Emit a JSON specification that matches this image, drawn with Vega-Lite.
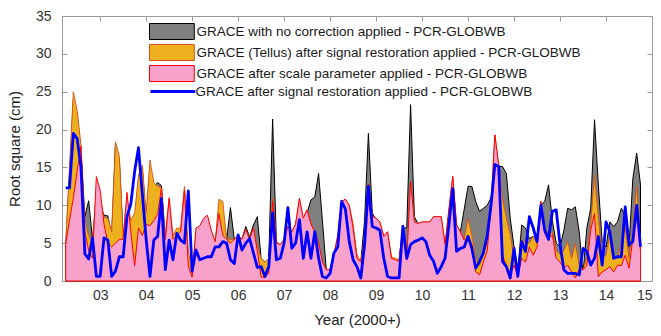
{
  "$schema": "https://vega.github.io/schema/vega-lite/v6.json",
  "width": 590,
  "height": 265,
  "autosize": "none",
  "padding": {"left": 62, "top": 16, "right": 9, "bottom": 55},
  "background": "white",
  "config": {
    "font": "Liberation Sans",
    "view": {"stroke": null},
    "axis": {
      "grid": false,
      "domainColor": "#9a9a9a",
      "tickColor": "#9a9a9a",
      "tickSize": -5,
      "labelFontSize": 14,
      "labelColor": "#333333",
      "titleFontSize": 15,
      "titleFontWeight": "normal",
      "titleColor": "#222222"
    },
    "legend": {
      "orient": "none",
      "title": null,
      "padding": 0,
      "labelFontSize": 13.5,
      "labelColor": "#1a1a1a",
      "labelOffset": 16,
      "labelLimit": 500,
      "symbolSize": 256,
      "symbolOffset": 14.4,
      "rowPadding": 0
    }
  },
  "data": {
    "values": [
      {"t": 2.25, "noCorr": 4.5, "tellus": 5, "scale": 4.8, "restored": 12.3},
      {"t": 2.333, "noCorr": 14, "tellus": 15, "scale": 8, "restored": 12.3},
      {"t": 2.417, "noCorr": 24, "tellus": 25, "scale": 11, "restored": 19.5},
      {"t": 2.5, "noCorr": 22, "tellus": 22.5, "scale": 14.5, "restored": 18.8},
      {"t": 2.583, "noCorr": 17, "tellus": 18, "scale": 17.8, "restored": 15},
      {"t": 2.667, "noCorr": 8.5, "tellus": 8, "scale": 6.5, "restored": 3.6},
      {"t": 2.75, "noCorr": 10.6, "tellus": 6, "scale": 4, "restored": 2.9},
      {"t": 2.833, "noCorr": 5.5, "tellus": 5, "scale": 3, "restored": 5.7},
      {"t": 2.917, "noCorr": 11, "tellus": 12, "scale": 13.8, "restored": 0.6},
      {"t": 3.0, "noCorr": 10, "tellus": 11, "scale": 12, "restored": 0.6},
      {"t": 3.083, "noCorr": 8.7, "tellus": 8.4, "scale": 7.5, "restored": 5.7},
      {"t": 3.167, "noCorr": 8.6, "tellus": 8.3, "scale": 5, "restored": 5.4},
      {"t": 3.25, "noCorr": 6, "tellus": 6.5, "scale": 4.5, "restored": 0.6},
      {"t": 3.333, "noCorr": 18, "tellus": 18.4, "scale": 5, "restored": 1.3},
      {"t": 3.417, "noCorr": 16, "tellus": 16.5, "scale": 5.5, "restored": 3.2},
      {"t": 3.5, "noCorr": 5.5, "tellus": 6, "scale": 5.5, "restored": 3.2},
      {"t": 3.583, "noCorr": 10, "tellus": 11, "scale": 11.7, "restored": 8.5},
      {"t": 3.667, "noCorr": 7, "tellus": 8, "scale": 6.5, "restored": 10.2},
      {"t": 3.75, "noCorr": 8, "tellus": 9, "scale": 2, "restored": 14.5},
      {"t": 3.833, "noCorr": 13, "tellus": 14, "scale": 7, "restored": 17.6},
      {"t": 3.917, "noCorr": 15, "tellus": 15.3, "scale": 6, "restored": 11.5},
      {"t": 4.0, "noCorr": 8, "tellus": 9, "scale": 7.5, "restored": 5.5},
      {"t": 4.083, "noCorr": 15, "tellus": 16, "scale": 7.3, "restored": 0.6},
      {"t": 4.167, "noCorr": 12.5, "tellus": 13, "scale": 8, "restored": 5.4},
      {"t": 4.25, "noCorr": 13, "tellus": 12.5, "scale": 8.8, "restored": 5.9},
      {"t": 4.333, "noCorr": 12.6, "tellus": 12.3, "scale": 12.3, "restored": 10.9},
      {"t": 4.417, "noCorr": 5, "tellus": 6, "scale": 5.5, "restored": 1.5},
      {"t": 4.5, "noCorr": 10, "tellus": 11, "scale": 10.9, "restored": 5.4},
      {"t": 4.583, "noCorr": 5, "tellus": 6, "scale": 5.5, "restored": 2.8},
      {"t": 4.667, "noCorr": 6.5, "tellus": 7, "scale": 6, "restored": 6.3},
      {"t": 4.75, "noCorr": 6, "tellus": 7, "scale": 6.5, "restored": 5.4},
      {"t": 4.833, "noCorr": 12, "tellus": 12.5, "scale": 12, "restored": 5},
      {"t": 4.917, "noCorr": 3, "tellus": 4, "scale": 2, "restored": 11.9},
      {"t": 5.0, "noCorr": 0.5, "tellus": 1, "scale": 0.5, "restored": 1.3},
      {"t": 5.083, "noCorr": 6, "tellus": 6.5, "scale": 7, "restored": 4.1},
      {"t": 5.167, "noCorr": 6.5, "tellus": 7, "scale": 7.3, "restored": 2.8},
      {"t": 5.25, "noCorr": 7.5, "tellus": 8, "scale": 8.3, "restored": 3},
      {"t": 5.333, "noCorr": 8, "tellus": 8.5, "scale": 8.7, "restored": 3.2},
      {"t": 5.417, "noCorr": 6, "tellus": 6.5, "scale": 6.7, "restored": 3.2},
      {"t": 5.5, "noCorr": 4.5, "tellus": 5, "scale": 5.2, "restored": 4.5},
      {"t": 5.583, "noCorr": 10, "tellus": 10.8, "scale": 8.9, "restored": 4.5},
      {"t": 5.667, "noCorr": 9, "tellus": 10.5, "scale": 6, "restored": 5.2},
      {"t": 5.75, "noCorr": 5.5, "tellus": 5.5, "scale": 5.5, "restored": 5},
      {"t": 5.833, "noCorr": 9.7, "tellus": 5.5, "scale": 5, "restored": 2.8},
      {"t": 5.917, "noCorr": 5.5, "tellus": 5.5, "scale": 5.5, "restored": 2.3},
      {"t": 6.0, "noCorr": 6, "tellus": 5.9, "scale": 5.9, "restored": 6.1},
      {"t": 6.083, "noCorr": 5.5, "tellus": 5.5, "scale": 5.5, "restored": 4.1},
      {"t": 6.167, "noCorr": 7.2, "tellus": 6.8, "scale": 6.8, "restored": 5},
      {"t": 6.25, "noCorr": 5.8, "tellus": 5.5, "scale": 5.5, "restored": 5.6},
      {"t": 6.333, "noCorr": 7.4, "tellus": 7, "scale": 7, "restored": 3.7},
      {"t": 6.417, "noCorr": 8.5, "tellus": 4.5, "scale": 4, "restored": 1.8},
      {"t": 6.5, "noCorr": 3, "tellus": 3, "scale": 0.5, "restored": 1.9},
      {"t": 6.583, "noCorr": 2.5, "tellus": 2.5, "scale": 0.5, "restored": 0.6},
      {"t": 6.667, "noCorr": 3, "tellus": 3, "scale": 1, "restored": 1.9},
      {"t": 6.75, "noCorr": 21.4, "tellus": 11, "scale": 10.5, "restored": 9},
      {"t": 6.833, "noCorr": 5, "tellus": 5.2, "scale": 5, "restored": 2.8},
      {"t": 6.917, "noCorr": 4.5, "tellus": 4.8, "scale": 4.8, "restored": 3},
      {"t": 7.0, "noCorr": 5.5, "tellus": 5.5, "scale": 5.5, "restored": 5},
      {"t": 7.083, "noCorr": 7, "tellus": 7.2, "scale": 7.2, "restored": 9.7},
      {"t": 7.167, "noCorr": 6, "tellus": 6.5, "scale": 6.5, "restored": 4.3},
      {"t": 7.25, "noCorr": 7.5, "tellus": 7.5, "scale": 7.5, "restored": 5},
      {"t": 7.333, "noCorr": 10, "tellus": 10.9, "scale": 10.9, "restored": 8.1},
      {"t": 7.417, "noCorr": 8, "tellus": 8.3, "scale": 8.3, "restored": 3},
      {"t": 7.5, "noCorr": 9, "tellus": 9.4, "scale": 9.4, "restored": 6.5},
      {"t": 7.583, "noCorr": 10.7, "tellus": 7.5, "scale": 7.5, "restored": 3},
      {"t": 7.667, "noCorr": 11.1, "tellus": 6.5, "scale": 6.5, "restored": 6.5},
      {"t": 7.75, "noCorr": 14.2, "tellus": 5, "scale": 5, "restored": 3},
      {"t": 7.833, "noCorr": 8, "tellus": 2.5, "scale": 2.5, "restored": 0.6},
      {"t": 7.917, "noCorr": 1.5, "tellus": 1.5, "scale": 1.5, "restored": 0.4},
      {"t": 8.0, "noCorr": 1.2, "tellus": 1.5, "scale": 1.5, "restored": 1},
      {"t": 8.083, "noCorr": 3, "tellus": 3.5, "scale": 3.5, "restored": 3.7},
      {"t": 8.167, "noCorr": 5.5, "tellus": 6, "scale": 6, "restored": 4.5},
      {"t": 8.25, "noCorr": 10, "tellus": 10.5, "scale": 10.5, "restored": 10.5},
      {"t": 8.333, "noCorr": 10.5, "tellus": 10.8, "scale": 10.8, "restored": 9.5},
      {"t": 8.417, "noCorr": 9.5, "tellus": 10, "scale": 10, "restored": 5.2},
      {"t": 8.5, "noCorr": 7, "tellus": 7.5, "scale": 7, "restored": 2.8},
      {"t": 8.583, "noCorr": 3, "tellus": 3.5, "scale": 3, "restored": 1.9},
      {"t": 8.667, "noCorr": 2.5, "tellus": 2.5, "scale": 2.5, "restored": 0.4},
      {"t": 8.75, "noCorr": 8, "tellus": 5.5, "scale": 5, "restored": 4.8},
      {"t": 8.833, "noCorr": 19.5, "tellus": 12.8, "scale": 12.8, "restored": 12.5},
      {"t": 8.917, "noCorr": 9, "tellus": 8.5, "scale": 8.5, "restored": 7.2},
      {"t": 9.0, "noCorr": 8, "tellus": 8.3, "scale": 8.3, "restored": 7},
      {"t": 9.083, "noCorr": 7.5, "tellus": 7.8, "scale": 7.8, "restored": 6.7},
      {"t": 9.167, "noCorr": 5.5, "tellus": 5.9, "scale": 5.9, "restored": 3},
      {"t": 9.25, "noCorr": 6, "tellus": 6.5, "scale": 6.5, "restored": 0.6},
      {"t": 9.333, "noCorr": 3, "tellus": 3.2, "scale": 3, "restored": 0.4},
      {"t": 9.417, "noCorr": 2.8, "tellus": 3, "scale": 2.8, "restored": 0.4},
      {"t": 9.5, "noCorr": 2.6, "tellus": 2.8, "scale": 2.6, "restored": 0.4},
      {"t": 9.583, "noCorr": 7, "tellus": 7.4, "scale": 7.4, "restored": 7.2},
      {"t": 9.667, "noCorr": 7, "tellus": 2.8, "scale": 2.8, "restored": 3},
      {"t": 9.75, "noCorr": 23.3, "tellus": 13.1, "scale": 13.1, "restored": 4.8},
      {"t": 9.833, "noCorr": 8.5, "tellus": 7.8, "scale": 7.8, "restored": 5.2},
      {"t": 9.917, "noCorr": 7.5, "tellus": 7.6, "scale": 7.6, "restored": 5.4},
      {"t": 10.0, "noCorr": 7.5, "tellus": 7.8, "scale": 7.8, "restored": 5.7},
      {"t": 10.083, "noCorr": 7.5, "tellus": 7.8, "scale": 7.8, "restored": 5.2},
      {"t": 10.167, "noCorr": 7.5, "tellus": 7.8, "scale": 7.8, "restored": 3.4},
      {"t": 10.25, "noCorr": 8, "tellus": 8.5, "scale": 8.5, "restored": 2.6},
      {"t": 10.333, "noCorr": 8, "tellus": 8.5, "scale": 8.5, "restored": 1},
      {"t": 10.417, "noCorr": 8, "tellus": 8.5, "scale": 8.5, "restored": 1.9},
      {"t": 10.5, "noCorr": 4.5, "tellus": 4.8, "scale": 4.8, "restored": 3},
      {"t": 10.583, "noCorr": 9, "tellus": 9.4, "scale": 9.4, "restored": 7.4},
      {"t": 10.667, "noCorr": 13.5, "tellus": 13.8, "scale": 13.8, "restored": 12.2},
      {"t": 10.75, "noCorr": 7, "tellus": 7.4, "scale": 7.4, "restored": 3.9},
      {"t": 10.833, "noCorr": 6.5, "tellus": 6.5, "scale": 6.5, "restored": 4.3},
      {"t": 10.917, "noCorr": 9.5, "tellus": 5.5, "scale": 5.4, "restored": 4.5},
      {"t": 11.0, "noCorr": 12.5, "tellus": 8.3, "scale": 5.6, "restored": 5.9},
      {"t": 11.083, "noCorr": 12.5, "tellus": 6, "scale": 4.8, "restored": 4.3},
      {"t": 11.167, "noCorr": 10.5, "tellus": 3, "scale": 1.2, "restored": 1.7},
      {"t": 11.25, "noCorr": 9.2, "tellus": 2, "scale": 0.8, "restored": 2.6},
      {"t": 11.333, "noCorr": 9.6, "tellus": 4, "scale": 2.5, "restored": 3.7},
      {"t": 11.417, "noCorr": 10, "tellus": 5, "scale": 4, "restored": 6},
      {"t": 11.5, "noCorr": 11, "tellus": 10, "scale": 10, "restored": 10},
      {"t": 11.583, "noCorr": 15, "tellus": 19.3, "scale": 19.3, "restored": 15.4},
      {"t": 11.667, "noCorr": 15.2, "tellus": 15.3, "scale": 15.3, "restored": 15.1},
      {"t": 11.75, "noCorr": 15.1, "tellus": 10.9, "scale": 3.4, "restored": 2.6},
      {"t": 11.833, "noCorr": 14.2, "tellus": 8.3, "scale": 1.9, "restored": 1.9},
      {"t": 11.917, "noCorr": 8.3, "tellus": 6.1, "scale": 0.8, "restored": 0.4},
      {"t": 12.0, "noCorr": 4.5, "tellus": 3, "scale": 2.1, "restored": 4.3},
      {"t": 12.083, "noCorr": 1.5, "tellus": 1.5, "scale": 0.6, "restored": 0.6},
      {"t": 12.167, "noCorr": 7.4, "tellus": 5.5, "scale": 3, "restored": 5.2},
      {"t": 12.25, "noCorr": 7, "tellus": 5, "scale": 2.5, "restored": 3.9},
      {"t": 12.333, "noCorr": 5.6, "tellus": 5, "scale": 4.5, "restored": 8.5},
      {"t": 12.417, "noCorr": 5.9, "tellus": 5.9, "scale": 3.4, "restored": 7},
      {"t": 12.5, "noCorr": 5, "tellus": 5, "scale": 4.5, "restored": 5.2},
      {"t": 12.583, "noCorr": 10, "tellus": 10.5, "scale": 10.5, "restored": 10},
      {"t": 12.667, "noCorr": 10.5, "tellus": 7, "scale": 6.3, "restored": 6.7},
      {"t": 12.75, "noCorr": 12.7, "tellus": 6, "scale": 5.6, "restored": 5.5},
      {"t": 12.833, "noCorr": 8, "tellus": 6.5, "scale": 6.1, "restored": 9.2},
      {"t": 12.917, "noCorr": 5, "tellus": 4, "scale": 3, "restored": 9.4},
      {"t": 13.0, "noCorr": 4.5, "tellus": 3.5, "scale": 2.5, "restored": 4.8},
      {"t": 13.083, "noCorr": 6.7, "tellus": 4, "scale": 1.7, "restored": 1.5},
      {"t": 13.167, "noCorr": 9.6, "tellus": 5.2, "scale": 2.1, "restored": 1},
      {"t": 13.25, "noCorr": 9.4, "tellus": 3, "scale": 1.2, "restored": 1},
      {"t": 13.333, "noCorr": 9.8, "tellus": 5, "scale": 0.4, "restored": 1},
      {"t": 13.417, "noCorr": 6.5, "tellus": 2.1, "scale": 1.5, "restored": 0.8},
      {"t": 13.5, "noCorr": 1, "tellus": 1.5, "scale": 1.5, "restored": 4.3},
      {"t": 13.583, "noCorr": 7, "tellus": 3, "scale": 2, "restored": 3.9},
      {"t": 13.667, "noCorr": 9.6, "tellus": 7.4, "scale": 6.7, "restored": 2.1},
      {"t": 13.75, "noCorr": 21.3, "tellus": 14, "scale": 8.9, "restored": 3},
      {"t": 13.833, "noCorr": 12.7, "tellus": 8.3, "scale": 0.6, "restored": 5.9},
      {"t": 13.917, "noCorr": 5.2, "tellus": 3, "scale": 1.2, "restored": 2.1},
      {"t": 14.0, "noCorr": 4.5, "tellus": 3.4, "scale": 1.5, "restored": 7.8},
      {"t": 14.083, "noCorr": 7.8, "tellus": 6.1, "scale": 1.9, "restored": 6.5},
      {"t": 14.167, "noCorr": 7.2, "tellus": 3, "scale": 1.2, "restored": 3},
      {"t": 14.25, "noCorr": 7.8, "tellus": 3, "scale": 2.1, "restored": 3.2},
      {"t": 14.333, "noCorr": 9.6, "tellus": 5, "scale": 2, "restored": 3.2},
      {"t": 14.417, "noCorr": 8.7, "tellus": 7, "scale": 3.4, "restored": 9.8},
      {"t": 14.5, "noCorr": 4.5, "tellus": 3, "scale": 1.7, "restored": 4.8},
      {"t": 14.583, "noCorr": 13.5, "tellus": 7, "scale": 5.6, "restored": 5.2},
      {"t": 14.667, "noCorr": 16.9, "tellus": 12.5, "scale": 9.8, "restored": 10},
      {"t": 14.75, "noCorr": 12.7, "tellus": 4.5, "scale": 3.9, "restored": 4.5}
    ]
  },
  "encoding": {
    "x": {
      "field": "t",
      "type": "quantitative",
      "scale": {"domain": [2.17, 15], "nice": false, "zero": false}
    }
  },
  "resolve": {"axis": {"x": "independent", "y": "independent"}},
  "layer": [
    {
      "mark": {"type": "area", "strokeWidth": 1, "strokeJoin": "round"},
      "encoding": {
        "x": {
          "field": "t",
          "type": "quantitative",
          "axis": {
            "orient": "bottom",
            "values": [3, 4, 5, 6, 7, 8, 9, 10, 11, 12, 13, 14, 15],
            "labelExpr": "datum.value < 10 ? '0' + datum.value : '' + datum.value",
            "labelPadding": 12,
            "title": "Year (2000+)",
            "titlePadding": 10
          }
        },
        "y": {
          "field": "noCorr",
          "type": "quantitative",
          "scale": {"domain": [0, 35], "nice": false},
          "axis": {
            "orient": "left",
            "values": [0, 5, 10, 15, 20, 25, 30, 35],
            "labelPadding": 16,
            "title": "Root square (cm)",
            "titlePadding": 13
          }
        },
        "fill": {
          "datum": "GRACE with no correction applied - PCR-GLOBWB",
          "type": "nominal",
          "scale": {
            "domain": [
              "GRACE with no correction applied - PCR-GLOBWB",
              "GRACE (Tellus) after signal restoration applied - PCR-GLOBWB",
              "GRACE after scale parameter applied - PCR-GLOBWB"
            ],
            "range": ["#808080", "#EDB120", "#F7A1CB"]
          },
          "legend": {
            "legendX": 87,
            "legendY": 7,
            "symbolType": "M-2.8,-1H2.8V1H-2.8Z",
            "symbolStrokeWidth": 1
          }
        },
        "stroke": {
          "datum": "GRACE with no correction applied - PCR-GLOBWB",
          "type": "nominal",
          "scale": {
            "domain": [
              "GRACE with no correction applied - PCR-GLOBWB",
              "GRACE (Tellus) after signal restoration applied - PCR-GLOBWB",
              "GRACE after scale parameter applied - PCR-GLOBWB"
            ],
            "range": ["#000000", "#D95319", "#FF0000"]
          },
          "legend": {
            "legendX": 87,
            "legendY": 7,
            "symbolType": "M-2.8,-1H2.8V1H-2.8Z",
            "symbolStrokeWidth": 1
          }
        }
      }
    },
    {
      "mark": {"type": "area", "strokeWidth": 0.9, "strokeJoin": "round"},
      "encoding": {
        "x": {
          "field": "t",
          "type": "quantitative",
          "axis": {"orient": "top", "values": [3, 4, 5, 6, 7, 8, 9, 10, 11, 12, 13, 14, 15], "labels": false, "title": null}
        },
        "y": {
          "field": "tellus",
          "type": "quantitative",
          "axis": {"orient": "right", "values": [0, 5, 10, 15, 20, 25, 30, 35], "labels": false, "title": null}
        },
        "fill": {"datum": "GRACE (Tellus) after signal restoration applied - PCR-GLOBWB", "type": "nominal"},
        "stroke": {"datum": "GRACE (Tellus) after signal restoration applied - PCR-GLOBWB", "type": "nominal"}
      }
    },
    {
      "mark": {"type": "area", "strokeWidth": 1, "strokeJoin": "round"},
      "encoding": {
        "x": {"field": "t", "type": "quantitative", "axis": null},
        "y": {"field": "scale", "type": "quantitative", "axis": null},
        "fill": {"datum": "GRACE after scale parameter applied - PCR-GLOBWB", "type": "nominal"},
        "stroke": {"datum": "GRACE after scale parameter applied - PCR-GLOBWB", "type": "nominal"}
      }
    },
    {
      "mark": {"type": "line", "strokeWidth": 2.8, "strokeJoin": "round"},
      "encoding": {
        "x": {"field": "t", "type": "quantitative", "axis": null},
        "y": {"field": "restored", "type": "quantitative", "axis": null},
        "color": {
          "datum": "GRACE after signal restoration applied - PCR-GLOBWB",
          "type": "nominal",
          "scale": {
            "domain": ["GRACE after signal restoration applied - PCR-GLOBWB"],
            "range": ["#0000FF"]
          },
          "legend": {
            "legendX": 87,
            "legendY": 66,
            "labelOffset": 13,
            "symbolType": "M-2.8,0H2.8",
            "symbolStrokeWidth": 3
          }
        }
      }
    }
  ]
}
